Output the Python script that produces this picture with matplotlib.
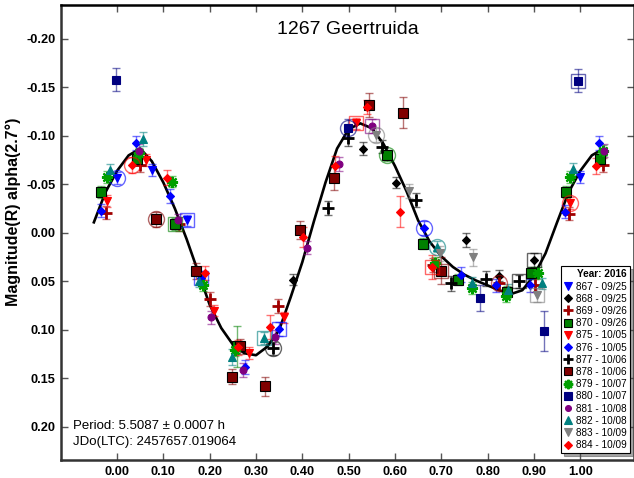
import numpy as np
import matplotlib
matplotlib.use("Agg")
import matplotlib.pyplot as plt
from matplotlib.lines import Line2D

plt.rcParams['font.family'] = ['Liberation Sans', 'DejaVu Sans']

# Fourier fit, read at phase steps of 0.025 (0.00 ... 1.00)
fit_phase = [0.000, 0.025, 0.050, 0.075, 0.100, 0.125, 0.150, 0.175, 0.200, 0.225,
             0.250, 0.275, 0.300, 0.325, 0.350, 0.375, 0.400, 0.425, 0.450, 0.475,
             0.500, 0.525, 0.550, 0.575, 0.600, 0.625, 0.650, 0.675, 0.700, 0.725,
             0.750, 0.775, 0.800, 0.825, 0.850, 0.875, 0.900, 0.925, 0.950, 0.975, 1.000]
fit_mag = [-0.064, -0.080, -0.087, -0.074, -0.052, -0.025, 0.006, 0.040, 0.074, 0.098,
           0.115, 0.124, 0.126, 0.117, 0.100, 0.066, 0.030, -0.012, -0.052, -0.087,
           -0.107, -0.113, -0.108, -0.092, -0.069, -0.043, -0.013, 0.009, 0.024, 0.035,
           0.043, 0.049, 0.054, 0.059, 0.063, 0.059, 0.044, 0.021, -0.011, -0.042, -0.064]

# sessions: phase, magnitude, error, ring ('' none, 'o' circle, 's' square)
ph_867 = [0.000, 0.076, 0.151, 1.000]
mag_867 = [-0.057, -0.065, -0.013, -0.058]
err_867 = [0.006, 0.006, 0.006, 0.006]
ring_867 = ['o', '', 's', '']

ph_868 = [0.380, 0.531, 0.603, 0.753, 0.825, 0.900]
mag_868 = [0.048, -0.087, -0.052, 0.007, 0.044, 0.028]
err_868 = [0.006, 0.007, 0.006, 0.007, 0.006, 0.007]
ring_868 = ['', '', '', '', '', 's']

ph_869 = [-0.024, 0.050, 0.134, 0.200, 0.348, 0.683, 0.825, 0.903, 0.976, 1.050]
mag_869 = [-0.021, -0.070, -0.009, 0.068, 0.075, 0.033, 0.052, 0.054, -0.020, -0.070]
err_869 = [0.007, 0.007, 0.007, 0.007, 0.007, 0.007, 0.007, 0.007, 0.007, 0.007]
ring_869 = ['', '', '', '', '', '', 'o', '', '', '']

ph_870 = [-0.035, 0.043, 0.125, 0.259, 0.583, 0.661, 0.737, 0.842, 0.894, 0.970, 1.043]
mag_870 = [-0.042, -0.076, -0.009, 0.117, -0.080, 0.011, 0.048, 0.061, 0.041, -0.042, -0.076]
err_870 = [0.006, 0.006, 0.006, 0.021, 0.006, 0.006, 0.006, 0.006, 0.006, 0.006, 0.006]
ring_870 = ['', '', 's', '', 'o', '', '', '', '', '', '']

ph_875 = [-0.022, 0.063, 0.210, 0.285, 0.361, 0.516, 0.978]
mag_875 = [-0.033, -0.075, 0.080, 0.124, 0.087, -0.113, -0.031]
err_875 = [0.006, 0.006, 0.006, 0.006, 0.006, 0.006, 0.006]
ring_875 = ['', '', '', '', '', 's', 'o']

ph_876 = [-0.035, 0.041, 0.114, 0.181, 0.276, 0.350, 0.663, 0.743, 0.819, 0.892, 0.968, 1.041]
mag_876 = [-0.023, -0.093, -0.038, 0.046, 0.138, 0.099, -0.005, 0.043, 0.054, 0.054, -0.022, -0.093]
err_876 = [0.007, 0.007, 0.007, 0.007, 0.007, 0.007, 0.007, 0.008, 0.007, 0.007, 0.007, 0.007]
ring_876 = ['', '', '', 's', '', 's', 'o', '', '', '', '', '']

ph_877 = [0.337, 0.456, 0.499, 0.572, 0.646, 0.721, 0.797, 0.868]
mag_877 = [0.119, -0.026, -0.098, -0.089, -0.034, 0.052, 0.047, 0.050]
err_877 = [0.007, 0.007, 0.008, 0.007, 0.007, 0.008, 0.008, 0.007]
ring_877 = ['o', '', '', '', '', '', '', 's']

ph_878 = [0.084, 0.171, 0.248, 0.266, 0.320, 0.395, 0.469, 0.544, 0.618, 0.700]
mag_878 = [-0.014, 0.039, 0.148, 0.117, 0.158, -0.003, -0.057, -0.132, -0.124, 0.039]
err_878 = [0.008, 0.008, 0.008, 0.008, 0.010, 0.009, 0.013, 0.012, 0.016, 0.014]
ring_878 = ['o', '', '', '', '', '', '', '', '', 's']

ph_879 = [-0.022, 0.048, 0.119, 0.186, 0.255, 0.687, 0.767, 0.840, 0.909, 0.978, 1.050]
mag_879 = [-0.058, -0.082, -0.053, 0.054, 0.121, 0.031, 0.057, 0.065, 0.041, -0.058, -0.085]
err_879 = [0.006, 0.006, 0.006, 0.006, 0.006, 0.006, 0.006, 0.006, 0.006, 0.006, 0.006]
ring_879 = ['', '', '', '', '', '', '', '', '', '', '']

ph_880 = [-0.002, 0.499, 0.784, 0.922, 0.996]
mag_880 = [-0.158, -0.108, 0.067, 0.101, -0.157]
err_880 = [0.012, 0.010, 0.013, 0.021, 0.012]
ring_880 = ['', 'o', '', '', 's']

ph_881 = [0.048, 0.132, 0.203, 0.272, 0.341, 0.410, 0.479, 0.551, 1.052]
mag_881 = [-0.085, -0.013, 0.087, 0.141, 0.107, 0.015, -0.071, -0.110, -0.085]
err_881 = [0.007, 0.007, 0.007, 0.007, 0.007, 0.007, 0.007, 0.007, 0.007]
ring_881 = ['', '', '', '', '', '', '', 's', '']

ph_882 = [-0.015, 0.056, 0.177, 0.248, 0.318, 0.691, 0.767, 0.845, 0.917, 0.985]
mag_882 = [-0.065, -0.097, 0.050, 0.128, 0.108, 0.014, 0.052, 0.059, 0.052, -0.066]
err_882 = [0.006, 0.007, 0.006, 0.008, 0.006, 0.006, 0.007, 0.006, 0.006, 0.006]
ring_882 = ['', '', '', '', 's', 'o', '', '', '', '']

ph_883 = [0.559, 0.631, 0.698, 0.769, 0.907]
mag_883 = [-0.101, -0.043, 0.021, 0.025, 0.064]
err_883 = [0.007, 0.007, 0.008, 0.009, 0.007]
ring_883 = ['o', '', '', '', 's']

ph_884 = [0.032, 0.108, 0.190, 0.262, 0.330, 0.402, 0.471, 0.540, 0.611, 0.680, 1.035]
mag_884 = [-0.070, -0.057, 0.041, 0.118, 0.097, 0.004, -0.069, -0.130, -0.022, 0.035, -0.069]
err_884 = [0.008, 0.008, 0.007, 0.008, 0.012, 0.010, 0.010, 0.007, 0.016, 0.012, 0.008]
ring_884 = ['o', '', '', '', '', '', '', '', '', 's', '']

session_labels = ['867 - 09/25', '868 - 09/25', '869 - 09/26', '870 - 09/26', '875 - 10/05',
                  '876 - 10/05', '877 - 10/06', '878 - 10/06', '879 - 10/07', '880 - 10/07',
                  '881 - 10/08', '882 - 10/08', '883 - 10/09', '884 - 10/09']

sessions = [
    (ph_867, mag_867, err_867, ring_867, dict(marker='v', color='#0000ff', ms=6)),
    (ph_868, mag_868, err_868, ring_868, dict(marker='D', color='#000000', ms=4.5)),
    (ph_869, mag_869, err_869, ring_869, dict(marker='+', color='#a00000', ms=9, mew=2)),
    (ph_870, mag_870, err_870, ring_870, dict(marker='s', color='#008000', ms=6.5, mec='black')),
    (ph_875, mag_875, err_875, ring_875, dict(marker='v', color='#ff0000', ms=6)),
    (ph_876, mag_876, err_876, ring_876, dict(marker='D', color='#0000ff', ms=4.5)),
    (ph_877, mag_877, err_877, ring_877, dict(marker='+', color='#000000', ms=9, mew=2)),
    (ph_878, mag_878, err_878, ring_878, dict(marker='s', color='#800000', ms=6.5, mec='black')),
    (ph_879, mag_879, err_879, ring_879, dict(marker=(8, 2, 0), color='#00a000', ms=8, mew=1.6)),
    (ph_880, mag_880, err_880, ring_880, dict(marker='s', color='#000080', ms=6)),
    (ph_881, mag_881, err_881, ring_881, dict(marker='o', color='#800080', ms=5)),
    (ph_882, mag_882, err_882, ring_882, dict(marker='^', color='#008080', ms=6)),
    (ph_883, mag_883, err_883, ring_883, dict(marker='v', color='#808080', ms=6)),
    (ph_884, mag_884, err_884, ring_884, dict(marker='D', color='#ff0000', ms=4.5)),
]

fig = plt.figure(figsize=(6.34, 4.78), dpi=100)
ax = fig.add_axes([0.0962, 0.0377, 0.9045, 0.9508])

# fit curve, repeated over the wrapped phase range
fp = np.array(fit_phase)
fm = np.array(fit_mag)
curve_x = np.concatenate([fp[-3:-1] - 1.0, fp, fp[1:3] + 1.0])
curve_y = np.concatenate([fm[-3:-1], fm, fm[1:3]])
ax.plot(curve_x, curve_y, color='black', lw=1.9, zorder=2)

handles = []
for (ph, mag, err, ring, st), lab in zip(sessions, session_labels):
    col = st['color']
    ax.errorbar(ph, mag, yerr=err, fmt='none', ecolor=col, alpha=0.55,
                elinewidth=1, capsize=3, capthick=1, zorder=3)
    ax.plot(ph, mag, linestyle='none', marker=st['marker'], ms=st['ms'],
            mfc=col, mec=st.get('mec', col), mew=st.get('mew', 0.8), zorder=4)
    for x, y, r in zip(ph, mag, ring):
        if r == 'o':
            ax.plot(x, y, marker='o', ms=11.5, mfc='none', mec=col, mew=1, alpha=0.6, zorder=4)
        elif r == 's':
            ax.plot(x, y, marker='s', ms=10.5, mfc='none', mec=col, mew=1, alpha=0.6, zorder=4)
    handles.append(Line2D([], [], linestyle='none', marker=st['marker'],
                          ms=st['ms'] * 0.85, mfc=col, mec=st.get('mec', col),
                          mew=st.get('mew', 0.8), label=lab))

ax.set_xlim(-0.121, 1.117)
ax.set_ylim(0.234, -0.2345)

xt = [0.0, 0.1, 0.2, 0.3, 0.4, 0.5, 0.6, 0.7, 0.8, 0.9, 1.0]
yt = [-0.20, -0.15, -0.10, -0.05, 0.00, 0.05, 0.10, 0.15, 0.20]
ax.set_xticks(xt)
ax.set_xticklabels(['%.2f' % v for v in xt], fontweight='bold', fontsize=9.2)
ax.set_yticks(yt)
ax.set_yticklabels(['%.2f' % (v + 0.0) for v in yt], fontweight='bold', fontsize=9.2)
ax.tick_params(direction='in', length=5, width=1, color='#555555',
               top=True, right=True, pad=4)

for side in ['left', 'bottom', 'top', 'right']:
    ax.spines[side].set_linewidth(1.8)
    ax.spines[side].set_color('#333333')
ax.spines['top'].set_color('black')

ax.set_ylabel('Magnitude(R) alpha(2.7°)', fontweight='bold', fontsize=11.5)
ax.yaxis.set_label_coords(-0.07, 0.545)

ax.text(0.5, 0.947, '1267 Geertruida', transform=ax.transAxes,
        ha='center', va='center', fontsize=14)
ax.text(0.021, 0.058, 'Period: 5.5087 ± 0.0007 h\nJDo(LTC): 2457657.019064',
        transform=ax.transAxes, ha='left', va='center', fontsize=9.5, linespacing=1.45)

leg = ax.legend(handles=handles, loc='lower right', bbox_to_anchor=(0.992, 0.015),
                title='Year: 2016', title_fontproperties={'weight': 'bold', 'size': 7.2},
                fontsize=7.2, frameon=True, fancybox=False, shadow=True,
                handlelength=0.8, handletextpad=0.4, labelspacing=0.22,
                borderpad=0.3, borderaxespad=0, alignment='right')
leg.get_frame().set_edgecolor('black')
leg.get_frame().set_linewidth(0.8)

fig.savefig('out.png', dpi=100)
